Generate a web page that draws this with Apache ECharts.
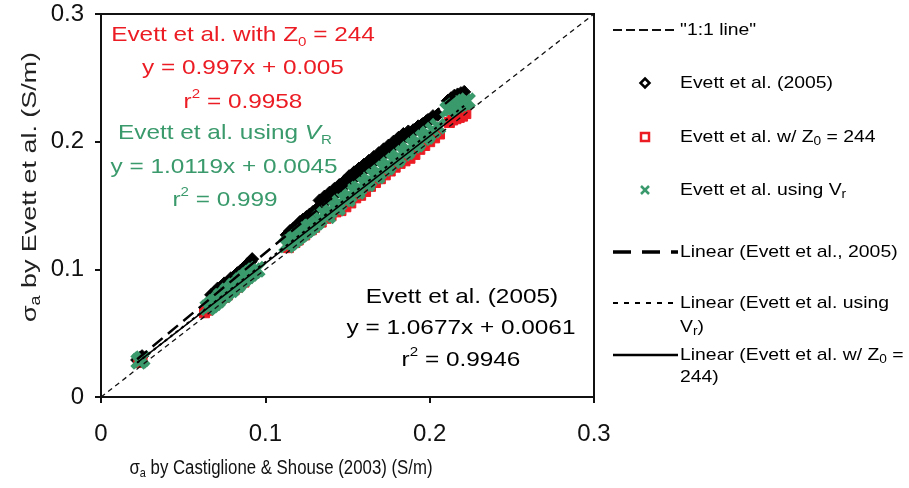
<!DOCTYPE html>
<html>
<head>
<meta charset="utf-8">
<script src="https://cdn.jsdelivr.net/npm/echarts@6/dist/echarts.min.js"></script>
<style>
html,body{margin:0;padding:0;background:#fff;}
#chart{width:909px;height:488px;}
</style>
</head>
<body>
<div id="chart"></div>
<script>
// ---- data ----
const axisTicks = [0, 0.1, 0.2, 0.3];
const oneToOne = [[0, 0], [0.3, 0.3]];

const evett2005 = [
  [0.022,0.029],[0.024,0.031],[0.025,0.032],[0.023,0.030],
  [0.067,0.080],[0.069,0.082],[0.071,0.085],[0.073,0.086],[0.075,0.089],[0.077,0.090],[0.079,0.093],
  [0.081,0.094],[0.083,0.097],[0.085,0.099],[0.087,0.101],[0.089,0.104],[0.091,0.106],[0.092,0.108],
  [0.070,0.079],[0.074,0.083],[0.078,0.088],[0.082,0.092],[0.086,0.096],[0.090,0.101],
  [0.113,0.127],[0.115,0.130],[0.117,0.132],[0.119,0.134],[0.121,0.137],[0.123,0.139],[0.125,0.141],
  [0.127,0.143],[0.129,0.145],[0.131,0.147],[0.116,0.127],[0.122,0.134],[0.128,0.140],
  [0.133,0.154],[0.136,0.157],[0.139,0.160],[0.142,0.163],[0.145,0.166],[0.148,0.169],[0.151,0.173],
  [0.154,0.176],[0.157,0.179],[0.160,0.182],[0.163,0.185],[0.166,0.188],[0.169,0.191],[0.172,0.194],
  [0.175,0.197],[0.178,0.200],[0.181,0.203],[0.184,0.206],[0.187,0.208],[0.190,0.209],[0.193,0.212],
  [0.196,0.214],[0.199,0.217],[0.202,0.220],[0.205,0.221],
  [0.135,0.151],[0.141,0.157],[0.147,0.164],[0.153,0.170],[0.159,0.177],[0.165,0.183],[0.171,0.189],
  [0.177,0.195],[0.183,0.202],[0.189,0.207],[0.195,0.213],[0.201,0.218],
  [0.138,0.155],[0.144,0.161],[0.150,0.168],[0.156,0.174],[0.162,0.180],[0.168,0.186],[0.174,0.192],
  [0.180,0.199],[0.186,0.204],[0.192,0.210],[0.198,0.216],
  [0.211,0.232],[0.213,0.234],[0.215,0.236],[0.217,0.237],[0.219,0.238],[0.221,0.239],[0.214,0.231],[0.218,0.234]
];
const evettZ0 = [
  [0.023,0.028],[0.025,0.029],[0.024,0.027],
  [0.063,0.066],[0.065,0.068],[0.067,0.071],[0.069,0.072],[0.071,0.074],[0.073,0.077],[0.075,0.078],
  [0.077,0.080],[0.079,0.083],[0.081,0.084],[0.083,0.086],[0.085,0.089],[0.087,0.090],[0.089,0.093],
  [0.091,0.095],[0.093,0.097],
  [0.114,0.117],[0.116,0.120],[0.118,0.121],[0.120,0.123],[0.122,0.126],[0.124,0.127],[0.126,0.130],
  [0.128,0.131],[0.130,0.133],
  [0.134,0.137],[0.137,0.140],[0.140,0.142],[0.143,0.145],[0.146,0.146],[0.149,0.149],[0.152,0.152],
  [0.155,0.156],[0.158,0.158],[0.161,0.161],[0.164,0.165],[0.167,0.168],[0.170,0.171],[0.173,0.174],
  [0.176,0.177],[0.179,0.180],[0.182,0.183],[0.185,0.185],[0.188,0.187],[0.191,0.190],[0.194,0.194],
  [0.197,0.197],[0.200,0.200],[0.203,0.203],[0.206,0.206],
  [0.212,0.215],[0.214,0.217],[0.216,0.218],[0.218,0.219],[0.220,0.220],[0.222,0.222]
];
const evettVr = [
  [0.023,0.028],[0.025,0.030],[0.024,0.029],
  [0.065,0.070],[0.067,0.072],[0.069,0.074],[0.071,0.076],[0.073,0.079],[0.075,0.080],[0.077,0.083],
  [0.079,0.084],[0.081,0.087],[0.083,0.088],[0.085,0.091],[0.087,0.093],[0.089,0.095],[0.091,0.097],
  [0.093,0.099],[0.095,0.100],
  [0.113,0.119],[0.115,0.121],[0.117,0.123],[0.119,0.125],[0.121,0.127],[0.123,0.129],[0.125,0.131],
  [0.127,0.133],[0.129,0.135],[0.131,0.137],
  [0.133,0.140],[0.136,0.143],[0.139,0.146],[0.142,0.149],[0.145,0.152],[0.148,0.155],[0.151,0.158],
  [0.154,0.161],[0.157,0.164],[0.160,0.167],[0.163,0.170],[0.166,0.173],[0.169,0.176],[0.172,0.179],
  [0.175,0.182],[0.178,0.185],[0.181,0.188],[0.184,0.191],[0.187,0.194],[0.190,0.197],[0.193,0.200],
  [0.196,0.203],[0.199,0.206],[0.202,0.209],[0.205,0.212],
  [0.138,0.142],[0.144,0.148],[0.150,0.155],[0.156,0.161],[0.162,0.167],[0.168,0.173],[0.174,0.180],
  [0.180,0.186],[0.186,0.192],[0.192,0.198],[0.198,0.204],
  [0.211,0.225],[0.213,0.226],[0.215,0.228],[0.217,0.229],[0.219,0.230],[0.221,0.231],[0.223,0.232]
];
// trendline coefficients (slope, intercept) as printed on chart, and fitted x-range
const fitEvett2005 = [1.0677, 0.0061];
const fitVr = [1.0119, 0.0045];
const fitZ0 = [0.997, 0.005];
const fitRange = [0.022, 0.222];

function fitLine(c) { return fitRange.map(x => [x, c[0] * x + c[1]]); }

const RED = '#ec1c24', GREEN = '#3a9a6c';
const FONT = 'Liberation Sans, Arial, sans-serif';
const SX = 1.16;

const chart = echarts.init(document.getElementById('chart'), null, {renderer: 'canvas'});

function txt(x, y, text, opts) {
  return Object.assign({
    type: 'text', x: x, y: y, scaleX: SX, z: 100,
    style: Object.assign({
      text: text, fontFamily: FONT, fontSize: 21, fill: '#000',
      align: 'center', verticalAlign: 'middle', lineHeight: 28,
      rich: {
        b: {fontSize: 21, lineHeight: 28},
        sub: {fontSize: 13, lineHeight: 12, verticalAlign: 'bottom'},
        sup: {fontSize: 13, lineHeight: 12, verticalAlign: 'top'},
        it: {fontSize: 21, lineHeight: 28, fontStyle: 'italic'}
      }
    }, opts || {})
  });
}
function legTxt(y, text) {
  return {
    type: 'text', x: 680, y: y, scaleX: 1.14, z: 100,
    style: {
      text: text, fontFamily: FONT, fontSize: 17, fill: '#000',
      align: 'left', verticalAlign: 'middle', lineHeight: 22,
      rich: {
        b: {fontSize: 17, lineHeight: 22},
        sub: {fontSize: 12, lineHeight: 10, verticalAlign: 'bottom'}
      }
    }
  };
}
const tickFmt = v => { const t = axisTicks.find(a => Math.abs(a - v) < 1e-9); return t === 0 ? '0' : String(t); };

const option = {
  animation: false,
  backgroundColor: '#fff',
  grid: {left: 101, top: 14, width: 493, height: 383, show: true, borderColor: '#111', borderWidth: 2, backgroundColor: 'transparent'},
  xAxis: {
    type: 'value', min: 0, max: 0.3, interval: 0.1,
    axisLine: {show: true, lineStyle: {color: '#111', width: 2}},
    axisTick: {show: true, inside: false, length: 6, lineStyle: {color: '#111', width: 2}},
    axisLabel: {margin: 25, fontSize: 24, color: '#111', fontFamily: FONT, formatter: tickFmt},
    splitLine: {show: false}
  },
  yAxis: {
    type: 'value', min: 0, max: 0.3, interval: 0.1,
    axisLine: {show: true, lineStyle: {color: '#111', width: 2}},
    axisTick: {show: true, inside: false, length: 6, lineStyle: {color: '#111', width: 2}},
    axisLabel: {margin: 17, fontSize: 24, color: '#111', fontFamily: FONT, formatter: tickFmt},
    splitLine: {show: false}
  },
  series: [
    {name: 'Evett et al. (2005)', type: 'scatter', data: evett2005, symbol: 'diamond', symbolSize: 13, z: 2,
      itemStyle: {color: '#000', borderColor: '#000', borderWidth: 1, opacity: 1}},
    {name: 'Evett et al. w/ Z0 = 244', type: 'scatter', data: evettZ0, symbol: 'rect', symbolSize: 10, z: 3,
      itemStyle: {color: RED, borderColor: RED, borderWidth: 1, opacity: 1}},
    {name: 'Evett et al. using Vr', type: 'scatter', data: evettVr, z: 4,
      symbol: 'path://M1,0L5,4L9,0L10,1L6,5L10,9L9,10L5,6L1,10L0,9L4,5L0,1Z', symbolSize: 12,
      itemStyle: {color: GREEN, borderColor: GREEN, borderWidth: 3.5, opacity: 1}},
    {name: '"1:1 line"', type: 'line', data: oneToOne, symbol: 'none', z: 5,
      lineStyle: {color: '#111', width: 1.3, type: [5, 4]}},
    {name: 'Linear (Evett et al., 2005)', type: 'line', data: fitLine(fitEvett2005), symbol: 'none', z: 6,
      lineStyle: {color: '#000', width: 2.5, type: [13, 7]}},
    {name: 'Linear (Evett et al. using Vr)', type: 'line', data: fitLine(fitVr), symbol: 'none', z: 6,
      lineStyle: {color: '#000', width: 2, type: [3, 4]}},
    {name: 'Linear (Evett et al. w/ Z0 = 244)', type: 'line', data: fitLine(fitZ0), symbol: 'none', z: 6,
      lineStyle: {color: '#000', width: 1.5, type: 'solid'}}
  ],
  graphic: [
    // annotations
    txt(243, 35, '{b|Evett et al. with Z}{sub|0}{b| = 244}', {fill: RED}),
    txt(243, 68, 'y = 0.997x + 0.005', {fill: RED}),
    txt(243, 102, '{b|r}{sup|2}{b| = 0.9958}', {fill: RED}),
    txt(225, 133, '{b|Evett et al. using }{it|V}{sub|R}', {fill: GREEN}),
    txt(224, 167, 'y = 1.0119x + 0.0045', {fill: GREEN}),
    txt(225, 200, '{b|r}{sup|2}{b| = 0.999}', {fill: GREEN}),
    txt(462, 297, 'Evett et al. (2005)'),
    txt(461, 328, 'y = 1.0677x + 0.0061'),
    txt(461, 360, '{b|r}{sup|2}{b| = 0.9946}'),
    // axis titles
    {type: 'text', x: 281, y: 468, scaleX: 0.84, z: 100, style: {text: '{b|σ}{sub|a}{b| by Castiglione & Shouse (2003) (S/m)}', fontFamily: FONT, fill: '#111', align: 'center', verticalAlign: 'middle',
      rich: {b: {fontSize: 20, lineHeight: 24}, sub: {fontSize: 13, lineHeight: 10, verticalAlign: 'bottom'}}}},
    {type: 'text', x: 30, y: 187, rotation: Math.PI / 2, scaleX: 1.28, z: 100, style: {text: '{b|σ}{sub|a}{b| by Evett et al. (S/m)}', fontFamily: FONT, fill: '#222', align: 'center', verticalAlign: 'middle',
      rich: {b: {fontSize: 21, lineHeight: 26}, sub: {fontSize: 14, lineHeight: 10, verticalAlign: 'bottom'}}}},
    // legend
    {type: 'line', shape: {x1: 613, y1: 30, x2: 678, y2: 30}, style: {stroke: '#111', lineWidth: 2, lineDash: [9, 4]}},
    legTxt(30, '"1:1 line"'),
    {type: 'polygon', shape: {points: [[645, 78.5], [649.5, 83], [645, 87.5], [640.5, 83]]}, style: {stroke: '#000', fill: 'none', lineWidth: 2.5}},
    legTxt(83, 'Evett et al. (2005)'),
    {type: 'rect', shape: {x: 641, y: 133, width: 8, height: 8}, style: {stroke: RED, fill: 'none', lineWidth: 2.5}},
    legTxt(137, '{b|Evett et al. w/ Z}{sub|0}{b| = 244}'),
    {type: 'line', shape: {x1: 641, y1: 186, x2: 649, y2: 194}, style: {stroke: GREEN, lineWidth: 2.5}},
    {type: 'line', shape: {x1: 649, y1: 186, x2: 641, y2: 194}, style: {stroke: GREEN, lineWidth: 2.5}},
    legTxt(190, '{b|Evett et al. using V}{sub|r}'),
    {type: 'line', shape: {x1: 613, y1: 252, x2: 678, y2: 252}, style: {stroke: '#000', lineWidth: 3.5, lineDash: [18, 11]}},
    legTxt(252, 'Linear (Evett et al., 2005)'),
    {type: 'line', shape: {x1: 613, y1: 303, x2: 678, y2: 303}, style: {stroke: '#000', lineWidth: 2, lineDash: [5, 6]}},
    legTxt(303, 'Linear (Evett et al. using'),
    legTxt(327, '{b|V}{sub|r}{b|)}'),
    {type: 'line', shape: {x1: 613, y1: 355, x2: 678, y2: 355}, style: {stroke: '#000', lineWidth: 2.5}},
    legTxt(355, '{b|Linear (Evett et al. w/ Z}{sub|0}{b| =}'),
    legTxt(377, '244)')
  ]
};
chart.setOption(option);
</script>
</body>
</html>
